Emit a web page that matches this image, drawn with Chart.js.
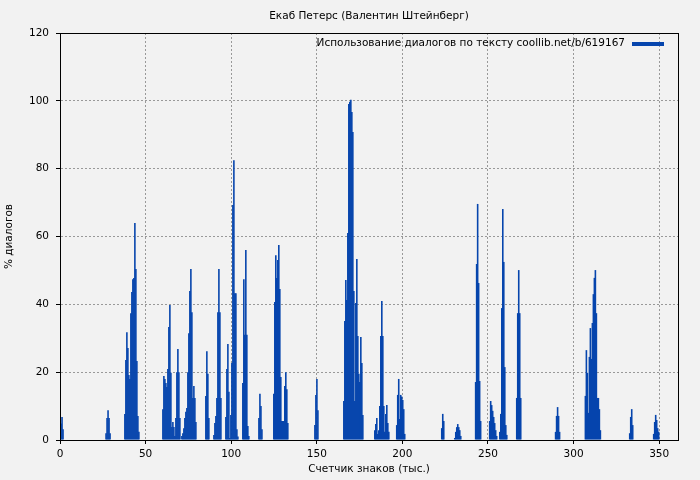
<!DOCTYPE html>
<html>
<head>
<meta charset="utf-8">
<script src="https://cdn.jsdelivr.net/npm/chart.js@4.4.1/dist/chart.umd.min.js"></script>
<style>
	html, body { margin: 0; padding: 0; background: #f2f2f2; }
	#wrap { width: 700px; height: 480px; }
</style>
</head>
<body>
<div id="wrap"><canvas id="dialogChart" width="700" height="480"></canvas></div>
<script>
// texts
const chartTitle = 'Екаб Петерс (Валентин Штейнберг)'
const seriesLabel = 'Использование диалогов по тексту coollib.net/b/619167'
const xTitle = 'Счетчик знаков (тыс.)'
const yTitle = '% диалогов'

// sample step, thousands of characters
const step = 0.584

// first sample of every burst of dialogue (thous. chars)
const burstStarts = [0.6, 26.9, 37.9, 60.1, 85.2, 89.9, 96.9, 106.8, 116.2, 124.9, 148.9, 165.8,
	183.9, 196.7, 223.0, 230.6, 242.8, 251.0, 256.9, 266.8, 289.5, 306.9, 332.8, 346.8]

// % of dialogue for every sample inside each burst
const burstValues = [
	[4.9, 6.8, 3.2],
	[2.0, 6.5, 8.8, 6.5, 2.0],
	[7.7, 23.6, 31.8, 27.1, 19.2, 18.0, 37.4, 43.6, 47.4, 47.8, 64.0, 50.4, 23.3, 7.1, 2.4],
	[9.1, 18.9, 18.0, 16.8, 15.6, 20.9, 33.3, 39.8, 19.8, 3.8, 5.3, 3.8, 1.2, 6.5, 20.0, 26.8, 20.0, 6.5, 0,
		1.2, 2.0, 3.5, 6.5, 8.3, 9.4, 20.0, 31.5, 43.9, 50.4, 37.7, 12.4, 15.9, 12.4, 5.3],
	[13.0, 26.2, 19.5, 6.5],
	[1.5, 5.0, 7.1, 12.4, 37.7, 50.4, 37.7, 12.4],
	[6.8, 20.9, 28.3, 14.2, 0.6, 7.4, 22.7, 69.3, 82.5, 43.3, 43.3, 3.2, 1.0],
	[16.8, 47.4, 31.0, 56.0, 31.0, 4.1, 1.2],
	[6.5, 13.6, 10.0, 3.2],
	[13.6, 40.7, 54.5, 47.8, 53.1, 57.5, 44.5, 18.6, 5.6, 5.6, 5.6, 15.9, 20.0, 15.0, 5.0],
	[4.4, 13.3, 18.0, 8.8],
	[11.5, 35.1, 47.2, 41.3, 61.0, 99.1, 99.7, 100.3, 96.7, 90.8, 43.9, 11.5, 40.4, 53.4, 30.7, 19.5, 17.1, 30.4, 22.7, 7.4],
	[2.9, 4.7, 6.5, 1.8, 2.9, 10.0, 30.7, 41.0, 30.7, 10.0, 2.4, 7.7, 10.3, 5.0, 2.4],
	[4.4, 13.3, 18.0, 6.2, 13.3, 12.8, 11.8, 9.1, 1.8],
	[3.5, 7.7, 5.6],
	[0.6, 2.4, 3.8, 4.7, 3.8, 2.9, 1.2],
	[17.1, 51.9, 69.6, 46.3, 17.4, 5.6],
	[5.6, 11.5, 10.3, 8.6, 6.8, 5.0, 2.9, 1.2],
	[2.4, 7.7, 38.9, 68.1, 52.5, 21.5, 4.4, 1.5],
	[12.4, 37.4, 50.1, 37.4, 12.4],
	[2.4, 7.1, 9.7, 7.1, 2.4],
	[13.0, 26.5, 19.8, 8.0, 24.5, 33.0, 23.9, 34.5, 43.0, 47.8, 50.1, 37.4, 12.4, 12.4, 9.1, 2.9],
	[2.0, 6.8, 9.1, 4.4],
	[1.8, 5.3, 7.4, 5.9, 3.5, 2.4]
]

const xMax = 361
const yMax = 120

const barColor = '#0645ad'
const font = { family: 'DejaVu Sans', size: 10.5 }

//turn the bursts into points
const points = []
burstStarts.forEach((start, i) => {
	burstValues[i].forEach((v, j) => {
		points.push({ x: +(start + j * step).toFixed(3), y: v })
	})
})

//frame, title and legend inside the plot
const decorPlugin = {
	id: 'decor',
	afterDraw(chart) {
		const { ctx, chartArea: a } = chart
		ctx.save()
		ctx.strokeStyle = '#000'
		ctx.lineWidth = 1
		ctx.strokeRect(Math.round(a.left) + 0.5, Math.round(a.top) + 0.5,
			Math.round(a.right) - Math.round(a.left), Math.round(a.bottom) - Math.round(a.top))

		ctx.fillStyle = '#000'
		ctx.font = `${font.size}px "${font.family}"`
		ctx.textBaseline = 'middle'
		ctx.textAlign = 'center'
		ctx.fillText(chartTitle, (a.left + a.right) / 2, 16)

		ctx.textAlign = 'right'
		ctx.fillText(seriesLabel, a.right - 53, a.top + 10)
		ctx.fillStyle = barColor
		ctx.fillRect(a.right - 46, a.top + 9, 32, 4)
		ctx.restore()
	}
}

new Chart(document.getElementById('dialogChart'), {
	type: 'bar',
	data: {
		datasets: [{
			label: seriesLabel,
			data: points,
			backgroundColor: barColor,
			borderWidth: 0,
			barPercentage: 1.6,
			categoryPercentage: 1
		}]
	},
	plugins: [decorPlugin],
	options: {
		responsive: false,
		animation: false,
		layout: {
			padding: { top: 33, right: 22, left: 0, bottom: 0 }
		},
		plugins: {
			legend: { display: false },
			title: { display: false },
			tooltip: { enabled: false }
		},
		scales: {
			x: {
				type: 'linear',
				min: 0,
				max: xMax,
				offset: false,
				afterFit: scale => { scale.height = 40 },
				ticks: {
					stepSize: 50,
					includeBounds: false,
					maxRotation: 0,
					padding: 4,
					color: '#000',
					font: font
				},
				grid: {
					offset: false,
					color: '#999',
					tickColor: '#000',
					tickLength: 4,
					tickBorderDash: []
				},
				border: { color: '#000', dash: [2, 2] },
				title: {
					display: true,
					text: xTitle,
					color: '#000',
					font: font,
					padding: { top: 0, bottom: 4 }
				}
			},
			y: {
				min: 0,
				max: yMax,
				afterFit: scale => { scale.width = 60 },
				ticks: {
					stepSize: 20,
					padding: 7,
					color: '#000',
					font: font
				},
				grid: {
					color: '#999',
					tickColor: '#000',
					tickLength: 4,
					tickBorderDash: []
				},
				border: { color: '#000', dash: [2, 2] },
				title: {
					display: true,
					text: yTitle,
					color: '#000',
					font: font,
					padding: { top: 3, bottom: 0 }
				}
			}
		}
	}
})
</script>
</body>
</html>
